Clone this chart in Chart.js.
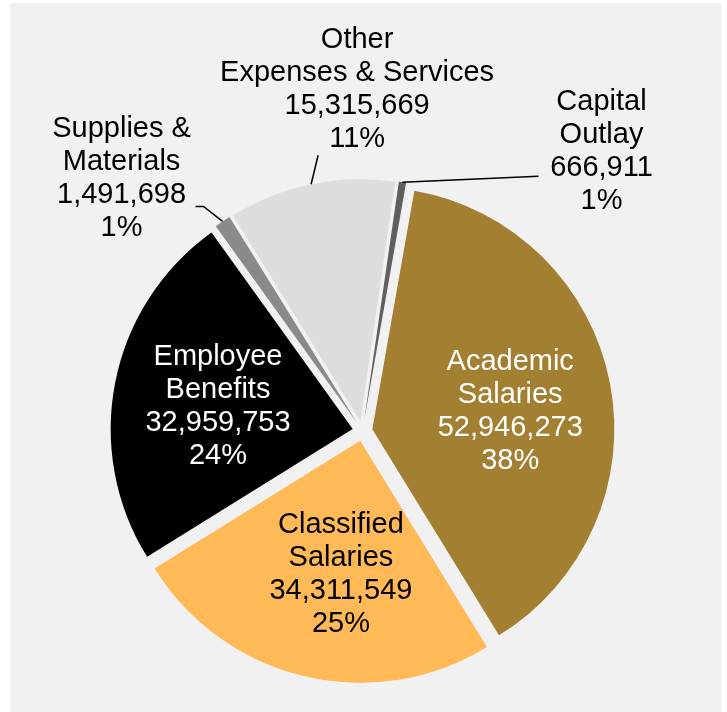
<!DOCTYPE html>
<html>
<head>
<meta charset="utf-8">
<title>Expenditures by Category</title>
<script src="https://cdn.jsdelivr.net/npm/chart.js@4.4.1/dist/chart.umd.min.js"></script>
<style>
  html, body { margin: 0; padding: 0; background: #ffffff; }
  #wrap { position: relative; width: 727px; height: 712px; }
  #panel { position: absolute; left: 10px; top: 3px; width: 711px; height: 709px; background: #f1f1f1; }
  #box { position: absolute; left: 0; top: 0; width: 727px; height: 712px; }
</style>
</head>
<body>
<div id="wrap">
  <div id="panel"></div>
  <div id="box"><canvas id="chart"></canvas></div>
</div>
<script>
// expenditure categories, clockwise from the top
const categories = [
  ['Academic', 'Salaries'],
  ['Classified', 'Salaries'],
  ['Employee', 'Benefits'],
  ['Supplies &', 'Materials'],
  ['Other', 'Expenses & Services'],
  ['Capital', 'Outlay'],
];
const amounts = [52946273, 34311549, 32959753, 1491698, 15315669, 666911];
const shares = ['38%', '25%', '24%', '1%', '11%', '1%'];

const sliceColors = ['#a37f31', '#ffb957', '#000000', '#8a8a8a', '#dcddde', '#5f5f5f'];

// pushes every slice out along its bisector by the same distance
const explode = {
  id: 'explode',
  afterUpdate(chart, args, opts) {
    chart.getDatasetMeta(0).data.forEach(arc => {
      const mid = (arc.startAngle + arc.endAngle) / 2;
      arc.x += Math.cos(mid) * opts.distance;
      arc.y += Math.sin(mid) * opts.distance;
    });
  }
};

// name / amount / share labels, inside big slices, outside with leader lines for small ones
const sliceLabels = {
  id: 'sliceLabels',
  afterDatasetsDraw(chart, args, opts) {
    const ctx = chart.ctx;
    const meta = chart.getDatasetMeta(0);
    ctx.save();
    ctx.font = opts.font;
    ctx.textAlign = 'center';
    ctx.textBaseline = 'alphabetic';
    meta.data.forEach((arc, i) => {
      const p = opts.placement[i];
      const mid = (arc.startAngle + arc.endAngle) / 2;
      const cos = Math.cos(mid), sin = Math.sin(mid);
      const lines = [...categories[i], amounts[i].toLocaleString('en-US'), shares[i]];
      let cx, cy;
      if (p.inside) {
        cx = arc.x + cos * arc.outerRadius * p.r + p.dx;
        cy = arc.y + sin * arc.outerRadius * p.r + p.dy;
      } else {
        const tipX = arc.x + cos * arc.outerRadius;
        const tipY = arc.y + sin * arc.outerRadius;
        cx = tipX + p.dx;
        cy = tipY + p.dy;
        ctx.beginPath();
        ctx.moveTo(tipX, tipY);
        p.leader.forEach(([lx, ly]) => ctx.lineTo(tipX + lx, tipY + ly));
        ctx.strokeStyle = opts.leaderColor;
        ctx.lineWidth = 1.5;
        ctx.stroke();
      }
      ctx.fillStyle = p.color;
      const first = cy - (lines.length - 1) * opts.lineHeight / 2 + opts.capHeight / 2;
      lines.forEach((t, k) => ctx.fillText(t, cx, first + k * opts.lineHeight));
    });
    ctx.restore();
  }
};

new Chart(document.getElementById('chart'), {
  type: 'pie',
  data: {
    labels: categories.map(c => c.join(' ')),
    datasets: [{
      data: amounts,
      backgroundColor: sliceColors,
      borderWidth: 0,
      radius: 242,
    }],
  },
  options: {
    responsive: true,
    maintainAspectRatio: false,
    animation: false,
    events: [],
    rotation: 10,
    layout: { padding: { left: 0, right: 2, top: 150, bottom: 0 } },
    plugins: {
      legend: { display: false },
      tooltip: { enabled: false },
      explode: { distance: 10 },
      sliceLabels: {
        font: '29px Arial, "Liberation Sans", sans-serif',
        lineHeight: 33,
        capHeight: 21,
        leaderColor: '#000000',
        placement: [
          { inside: true, r: 0.58, dx: 0, dy: 6, color: '#ffffff' },
          { inside: true, r: 0.58, dx: 13, dy: -5, color: '#000000' },
          { inside: true, r: 0.58, dx: 3, dy: 2, color: '#ffffff' },
          { inside: false, dx: -101, dy: -45, leader: [[-19, -15], [-27, -15]], color: '#000000' },
          { inside: false, dx: 46, dy: -97, leader: [[7, -29]], color: '#000000' },
          { inside: false, dx: 199, dy: -33, leader: [[136, -6]], color: '#000000' },
        ],
      },
    },
  },
  plugins: [explode, sliceLabels],
});
</script>
</body>
</html>
